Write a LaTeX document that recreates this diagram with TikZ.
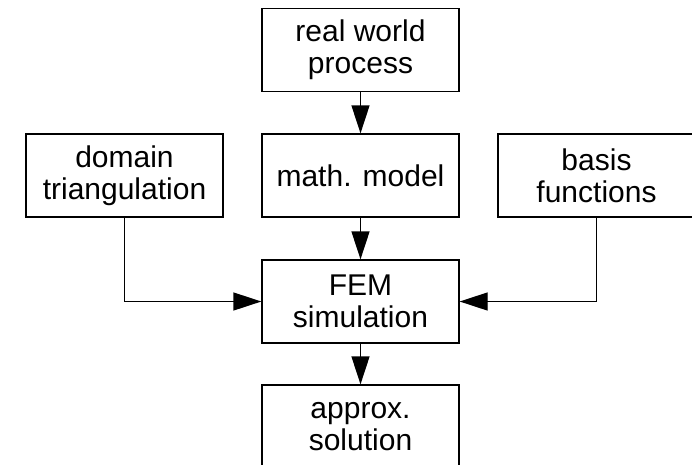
\documentclass[tikz,border=0pt]{standalone}
\usepackage{fontspec}
\setmainfont{Liberation Sans}
\usetikzlibrary{arrows.meta}
\begin{document}
\begin{tikzpicture}[x=1pt,y=-1pt,
  box/.style={draw=black, line width=1.3pt, minimum width=197pt, minimum height=83pt,
    inner sep=0pt, align=center, font=\fontsize{30}{32}\selectfont},
  conn/.style={draw=black, line width=1.3pt, -{Triangle[length=28pt,width=18pt]}}]
\useasboundingbox (0,0) rectangle (692,464);
\node[box] (rwp) at (360.5,50) {real world\\process};
\node[box] (dom) at (124.5,175.5) {domain\\triangulation};
\node[box] (mm) at (360.5,175.5) {math. model};
\node[box] (bf) at (596.5,175.5) {basis\\functions};
\node[box] (fem) at (360.5,301.5) {FEM\\simulation};
\node[box] (app) at (360.5,426.5) {approx.\\solution};
\draw[conn] (rwp) -- (mm);
\draw[conn] (mm) -- (fem);
\draw[conn] (fem) -- (app);
\draw[conn] (dom.south) |- (fem.west);
\draw[conn] (bf.south) |- (fem.east);
\end{tikzpicture}
\end{document}
